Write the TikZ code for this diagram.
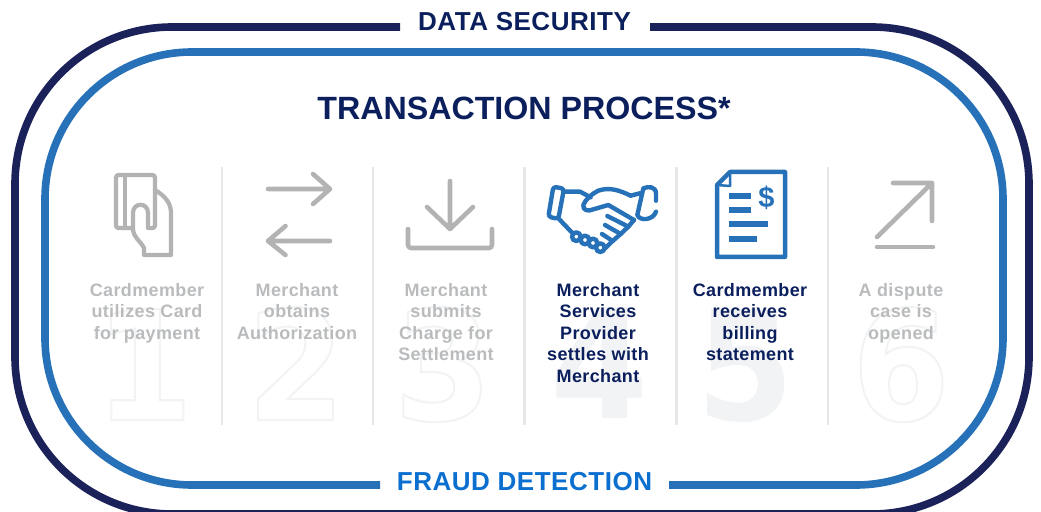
\documentclass[tikz,border=0pt]{standalone}
\usepackage{graphicx}
\usepackage{fontspec}
\setmainfont{Liberation Sans}
\newfontfamily\spacedfont{Liberation Sans}[LetterSpace=2]
\newfontfamily\digfont{DejaVu Sans}[BoldFont={DejaVu Sans Bold}]
\definecolor{navy}{HTML}{1B2159}
\definecolor{navytext}{HTML}{0A1F5C}
\definecolor{blu}{HTML}{2671B8}
\definecolor{blutext}{HTML}{0B6FCF}
\definecolor{graytext}{HTML}{B9BBBD}
\definecolor{iconG}{HTML}{B3B3B3}
\definecolor{divc}{HTML}{E6E7E8}
\definecolor{digc}{HTML}{F2F3F5}
\newcommand{\outl}[1]{\special{pdf:code q 1 Tr 2 w 0.95 0.953 0.96 RG}#1\special{pdf:code Q}}
\newcommand{\tallnum}[1]{\scalebox{1}[1.08]{#1}}
\tikzset{
 titletext/.style={font=\spacedfont\bfseries\fontsize{26bp}{28bp}\selectfont,inner sep=0pt},
 steptext/.style={font=\spacedfont\bfseries\fontsize{18bp}{21.5bp}\selectfont,align=center,anchor=north,inner sep=0pt,text=graytext},
 activetext/.style={steptext,text=navytext},
 digitnum/.style={font=\digfont\bfseries\fontsize{141bp}{141bp}\selectfont,text=digc,inner sep=0pt,anchor=base},
 divider/.style={draw=divc,line width=2.5bp},
 iconline/.style={draw=iconG,line width=4.6bp,line cap=round,line join=round},
 iconthin/.style={draw=iconG,line width=4.2bp,line cap=round,line join=round},
 blueline/.style={draw=blu,line width=4.4bp,line cap=round,line join=round},
 bar/.style={draw=blu,line width=5.3bp}
}
\begin{document}
\begin{tikzpicture}[x=1bp,y=-1bp]
\useasboundingbox (0,0) rectangle (1041,512);
% frames
\begin{scope}
\clip (0,0) rectangle (1041,512);
\draw[navy,line width=7.6bp,rounded corners=157bp] (400,27) -- (15,27) -- (15,514) -- (1029,514) -- (1029,27) -- (650,27);
\end{scope}
\draw[blu,line width=7.6bp,rounded corners=147bp] (380,485) -- (45,485) -- (45,52) -- (1003,52) -- (1003,485) -- (669,485);
\node[titletext,text=navytext] (sec) at (524.5,22) {DATA SECURITY};
\node[titletext,text=blutext] (fraud) at (524.5,482) {FRAUD DETECTION};
\node[text=navytext,inner sep=0pt,font=\bfseries\fontsize{32.2bp}{36bp}\selectfont] (head) at (524,108) {TRANSACTION PROCESS*};
% big digits
\node[digitnum] (d1) at (144,420) {\tallnum{\outl{1}}};
\node[digitnum] (d2) at (296,420) {\tallnum{\outl{2}}};
\node[digitnum] (d3) at (443,420) {\tallnum{\outl{3}}};
\node[digitnum] (d4) at (600,418) {\tallnum{4}};
\node[digitnum] (d5) at (746,420) {\tallnum{5}};
\node[digitnum] (d6) at (901,420) {\tallnum{\outl{6}}};
% dividers
\foreach \x/\n in {222/a,373/b,524.5/c,676.5/d,828/e} \draw[divider] (\x,167) -- (\x,425);
% step texts
\node[steptext] (t1) at (147,283) {Cardmember\\utilizes Card\\for payment};
\node[steptext] (t2) at (297,283) {Merchant\\obtains\\Authorization};
\node[steptext] (t3) at (446,283) {Merchant\\submits\\Charge for\\Settlement};
\node[activetext] (t4) at (598,283) {Merchant\\Services\\Provider\\settles with\\Merchant};
\node[activetext] (t5) at (750,283) {Cardmember\\receives\\billing\\statement};
\node[steptext] (t6) at (901,283) {A dispute\\case is\\opened};
% card icon
\draw[iconthin,rounded corners=2.5bp] (133,228) -- (116,228) -- (116,175) -- (155,175) -- (155,228) -- (148,228);
\draw[iconthin] (125,175) -- (125,228);
\draw[iconthin] (155,190) .. controls (165,196) and (171,203) .. (171,213) -- (171,255) -- (144,255) -- (144,248) .. controls (140,240) and (133,238) .. (133,228) -- (133,213) .. controls (133,202) and (148,202) .. (148,213) -- (148,228);
% arrows icon
\draw[iconline] (268,189) -- (330,189) (313,174) -- (330,189) -- (313,204);
\draw[iconline] (330,241) -- (268,241) (285.5,226) -- (268,241) -- (285.5,255);
% download icon
\draw[iconline] (450,181) -- (450,229) (427,207) -- (450,229) -- (473,207);
\draw[iconline,rounded corners=3bp] (408,229) -- (408,248) -- (492,248) -- (492,229);
% handshake icon
\begin{scope}[shift={(530,170)},x=0.3333bp,y=-0.3333bp]
\draw[blueline,rounded corners=3bp] (70,50) -- (102,56) -- (85,147) -- (55,140) -- cycle;
\draw[blueline] (102,65) -- (150,65) -- (182,82);
\draw[blueline] (88,148) -- (130,192);
\draw[blueline] (302,77) .. controls (270,62) and (240,50) .. (205,62) .. controls (185,72) and (165,90) .. (160,105) .. controls (158,122) and (175,125) .. (190,118) -- (235,105) -- (312,150);
\draw[blueline] (302,77) -- (330,70);
\draw[blueline] (378,92) -- (378,70) .. controls (378,50) and (355,48) .. (340,55) -- (322,135) .. controls (330,155) and (370,150) .. (378,125);
\draw[blueline] (232,138) -- (295,170);
\draw[blueline] (225,165) -- (272,192);
\draw[blueline] (216,192) -- (248,213);
\draw[blueline] (312,150) -- (295,170) -- (272,192) -- (248,213) -- (222,238);
\draw[blueline] (139,200) circle[radius=13];
\draw[blueline] (165,210) circle[radius=13];
\draw[blueline] (189,219) circle[radius=13];
\draw[blueline] (211,233) circle[radius=13];
\end{scope}
% document icon
\draw[blu,line width=4.5bp,line join=round] (730,172) -- (785,172) -- (785,257) -- (717,257) -- (717,185) -- cycle;
\draw[blu,line width=2.5bp,line join=round] (730,172) -- (730,186) -- (717,185);
\draw[bar] (729,196) -- (751,196);
\draw[bar] (729,210) -- (751,210);
\draw[bar] (729,224) -- (768,224);
\draw[bar] (729,239) -- (757,239);
\node[inner sep=0pt,text=blu,font=\bfseries\fontsize{29bp}{30bp}\selectfont] (dollar) at (766.5,197.5) {\$};
% dispute icon
\draw[iconline] (877,237) -- (932,183) (893,183) -- (932,183) -- (932,221);
\draw[iconline] (877,247) -- (933,247);
\end{tikzpicture}
\end{document}
